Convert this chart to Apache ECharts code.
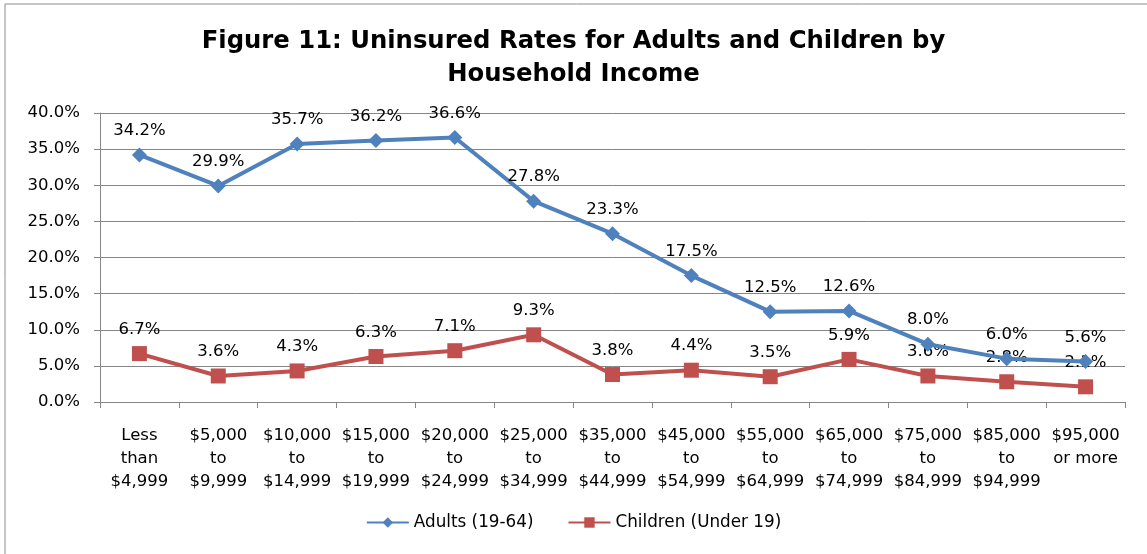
<!DOCTYPE html>
<html>
<head>
<meta charset="utf-8">
<script src="https://cdn.jsdelivr.net/npm/echarts@6/dist/echarts.min.js"></script>
<style>
  html, body { margin: 0; padding: 0; background: #fff; }
  #chart { width: 1147px; height: 554px; }
</style>
</head>
<body>
<div id="chart"></div>
<script>
// Household income brackets (x axis)
const categories = [
  'Less\nthan\n$4,999', '$5,000\nto\n$9,999', '$10,000\nto\n$14,999', '$15,000\nto\n$19,999',
  '$20,000\nto\n$24,999', '$25,000\nto\n$34,999', '$35,000\nto\n$44,999', '$45,000\nto\n$54,999',
  '$55,000\nto\n$64,999', '$65,000\nto\n$74,999', '$75,000\nto\n$84,999', '$85,000\nto\n$94,999',
  '$95,000\nor more'
];
// Uninsured rates, percent
const adults = [34.2, 29.9, 35.7, 36.2, 36.6, 27.8, 23.3, 17.5, 12.5, 12.6, 8.0, 6.0, 5.6];
const children = [6.7, 3.6, 4.3, 6.3, 7.1, 9.3, 3.8, 4.4, 3.5, 5.9, 3.6, 2.8, 2.1];
const seriesNames = ['Adults (19-64)', 'Children (Under 19)'];
const yTicks = { min: 0, max: 40, interval: 5 };

const FONT = '"DejaVu Sans", "Open Sans", sans-serif';
const SIZE = 16.5;
const chart = echarts.init(document.getElementById('chart'), null, { renderer: 'canvas' });

const labelStyle = {
  show: true,
  position: 'top',
  distance: 8,
  fontFamily: FONT,
  fontSize: SIZE,
  color: '#000',
  formatter: p => p.value.toFixed(1) + '%'
};

chart.setOption({
  backgroundColor: '#fff',
  animation: false,
  title: {
    text: 'Figure 11: Uninsured Rates for Adults and Children by\nHousehold Income',
    left: 'center',
    top: 20,
    textStyle: { fontFamily: FONT, fontWeight: 'bold', fontSize: 24.3, lineHeight: 33, color: '#000' }
  },
  graphic: [{
    type: 'rect',
    shape: { x: 5, y: 4, width: 1160, height: 570 },
    style: { fill: null, stroke: '#8c8c8c', lineWidth: 1 },
    silent: true,
    z: -1
  }],
  legend: {
    bottom: 18,
    left: 'center',
    itemGap: 34,
    itemWidth: 42,
    itemHeight: 13,
    textStyle: { fontFamily: FONT, fontSize: 16.8, color: '#000' },
    data: seriesNames
  },
  grid: { left: 100, right: 22, top: 113, bottom: 152, containLabel: false },
  xAxis: {
    type: 'category',
    data: categories,
    boundaryGap: true,
    axisLine: { lineStyle: { color: '#868686', width: 1 } },
    axisTick: { show: true, length: 6, lineStyle: { color: '#868686' } },
    axisLabel: { interval: 0, fontFamily: FONT, fontSize: SIZE, lineHeight: 23, color: '#000', margin: 22, align: 'center' }
  },
  yAxis: {
    type: 'value',
    min: yTicks.min, max: yTicks.max, interval: yTicks.interval,
    axisLine: { show: true, lineStyle: { color: '#868686', width: 1 } },
    axisTick: { show: true, length: 6, lineStyle: { color: '#868686' } },
    axisLabel: { fontFamily: FONT, fontSize: SIZE, color: '#000', margin: 20, formatter: v => v.toFixed(1) + '%' },
    splitLine: { show: true, lineStyle: { color: '#868686', width: 1 } }
  },
  series: [
    {
      name: seriesNames[0],
      type: 'line',
      data: adults,
      symbol: 'diamond',
      symbolSize: 15,
      itemStyle: { color: '#4F81BD' },
      lineStyle: { color: '#4F81BD', width: 4 },
      label: labelStyle,
      z: 3
    },
    {
      name: seriesNames[1],
      type: 'line',
      data: children,
      symbol: 'rect',
      symbolSize: 15,
      itemStyle: { color: '#C0504D' },
      lineStyle: { color: '#C0504D', width: 4 },
      label: labelStyle,
      z: 2
    }
  ]
});
</script>
</body>
</html>
